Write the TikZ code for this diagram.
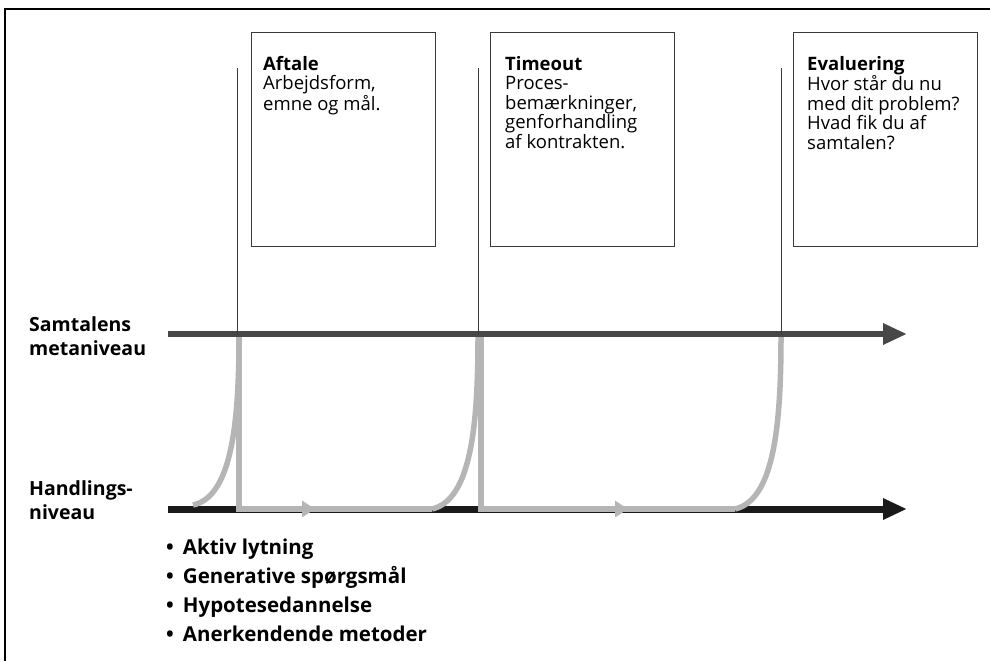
\documentclass[tikz,border=0pt]{standalone}
\usepackage{fontspec}
\setmainfont{Open Sans}
\usetikzlibrary{arrows.meta}
\definecolor{metagray}{HTML}{474747}
\definecolor{actblack}{HTML}{1A1A1A}
\definecolor{flowgray}{HTML}{B5B5B5}
\definecolor{boxline}{HTML}{3A3A3A}
\newcommand{\blt}{•\hspace{9pt}}
\tikzset{
  infobox/.style={draw=boxline, line width=1pt, minimum width=184pt, minimum height=214pt, anchor=north west, inner sep=0pt},
  boxtext/.style={anchor=north west, inner sep=0pt, align=left, font=\fontsize{18.5}{19.5}\selectfont},
  levellabel/.style={anchor=north west, inner sep=0pt, align=left, font=\bfseries\fontsize{19.5}{24}\selectfont},
  listtext/.style={anchor=north west, inner sep=0pt, align=left, font=\bfseries\fontsize{20.5}{29}\selectfont},
  tick/.style={draw=boxline, line width=1pt},
  mainarrow/.style={line width=7pt, -{Triangle[length=24pt,width=20pt]}},
  flow/.style={draw=flowgray, line width=5.5pt},
  flowtip/.style={draw=flowgray, line width=5.5pt, -{Triangle[length=13pt,width=16pt]}}
}
\begin{document}
\begin{tikzpicture}[x=1pt,y=-1pt]
\useasboundingbox (0,0) rectangle (990,661);
% frame
\draw[line width=2.5pt] (5,661) -- (5,9) -- (990,9);

% boxes
\node[infobox] (aftale) at (251,32) {};
\node[infobox] (timeout) at (490,32) {};
\node[infobox] (evaluering) at (793,32) {};
\node[boxtext] (aftaletxt) at (263,56) {\textbf{Aftale}\\Arbejdsform,\\emne og mål.};
\node[boxtext] (timeouttxt) at (505,56) {\textbf{Timeout}\\Proces-\\bemærkninger,\\genforhandling\\af kontrakten.};
\node[boxtext] (evaltxt) at (807,56) {\textbf{Evaluering}\\Hvor står du nu\\med dit problem?\\Hvad fik du af\\samtalen?};

% level labels
\node[levellabel] (meta) at (29,316) {Samtalens\\metaniveau};
\node[levellabel] (handling) at (29,480) {Handlings-\\niveau};
\node[listtext] (liste) at (166,539) {\blt Aktiv lytning\\\blt Generative spørgsmål\\\blt Hypotesedannelse\\\blt Anerkendende metoder};

% coordinates
\coordinate (m0) at (168,334);
\coordinate (m1) at (907,334);
\coordinate (h0) at (168,509);
\coordinate (h1) at (907,509);
\coordinate (t1) at (237,68);
\coordinate (t2) at (478,68);
\coordinate (t3) at (781,68);
\coordinate (c1s) at (193,505);
\coordinate (c1e) at (239,337);
\coordinate (v1b) at (239,509);
\coordinate (a1) at (315,509);
\coordinate (c2s) at (432,509);
\coordinate (c2e) at (478,337);
\coordinate (v2t) at (481,337);
\coordinate (v2b) at (481,509);
\coordinate (a2) at (628,509);
\coordinate (c3s) at (735,509);
\coordinate (c3e) at (781,337);

% lower line
\draw[mainarrow, actblack] (h0) -- (h1);

% gray flow
\draw[flow] (c1s) .. controls (230,497) and (239,430) .. (c1e);
\draw[flow] (c1e) -- (v1b) -- (c2s);
\draw[flowtip] (v1b) -- (a1);
\draw[flow] (c2s) .. controls (470,500) and (478,430) .. (c2e);
\draw[flow] (v2t) -- (v2b) -- (c3s);
\draw[flowtip] (v2b) -- (a2);
\draw[flow] (c3s) .. controls (773,500) and (781,430) .. (c3e);

% upper line
\draw[mainarrow, metagray, line width=6.5pt] (m0) -- (m1);

% ticks
\draw[tick] (t1) -- (t1 |- m0);
\draw[tick] (t2) -- (t2 |- m0);
\draw[tick] (t3) -- (t3 |- m0);
\end{tikzpicture}
\end{document}
